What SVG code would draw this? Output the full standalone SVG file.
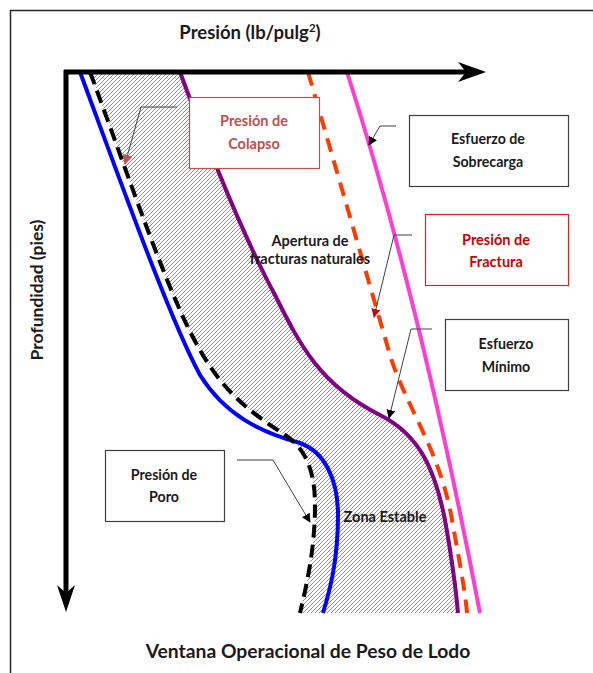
<svg xmlns="http://www.w3.org/2000/svg" width="593" height="673" viewBox="0 0 593 673">
<defs>
<pattern id="hatch" patternUnits="userSpaceOnUse" width="4" height="4">
<rect width="4" height="4" fill="#ffffff"/>
<path d="M-1,1 L1,-1 M0,4 L4,0 M3,5 L5,3" stroke="#858585" stroke-width="0.9"/>
</pattern>
<marker id="ahBlack" viewBox="0 0 10 10" refX="9" refY="5" markerWidth="9" markerHeight="9" markerUnits="userSpaceOnUse" orient="auto">
<path d="M0,0 L10,5 L0,10 Z" fill="#000"/>
</marker>
<marker id="ahRed" viewBox="0 0 10 10" refX="9" refY="5" markerWidth="9" markerHeight="9" markerUnits="userSpaceOnUse" orient="auto">
<path d="M0,0 L10,5 L0,10 Z" fill="#cc0000"/>
</marker>
<marker id="ahRose" viewBox="0 0 10 10" refX="9" refY="5" markerWidth="10" markerHeight="10" markerUnits="userSpaceOnUse" orient="auto">
<path d="M0,0 L10,5 L0,10 Z" fill="#c0504d"/>
</marker>
<style>
.t{font-family:Lato,"Liberation Sans",sans-serif;font-weight:bold;fill:#1a1a1a;}
.box{fill:#fff;stroke:#404040;stroke-width:1.2;}
.lead{fill:none;stroke:#404040;stroke-width:1;}
.curve{fill:none;stroke-width:4;stroke-linecap:butt;}
</style>
</defs>
<rect x="10.5" y="10.5" width="620" height="700" fill="#fff" stroke="#262626" stroke-width="1.5"/>

<g id="stable-zone">
<path d="M90,72 L180,72 C205,140 240,230 275,295 C300,345 320,385 380,415 C420,435 435,470 445,520 C453,565 456,590 458,613 L300,613 C308,580 315,545 315,505 C315,470 305,448 285,435 C255,415 225,395 200,350 C170,300 130,180 90,72 Z" fill="url(#hatch)"/>
</g>

<g id="curves">
<path id="overburden" class="curve" stroke="#ff3fd2" d="M347,72 Q420,300 480,613"/>
<path id="fracture" class="curve" stroke="#ff3c00" stroke-dasharray="14,9" d="M308,72 L390,355 C405,405 440,450 452,520 C460,565 465,590 467,613"/>
<path id="minstress" class="curve" stroke="#800080" d="M180,72 C205,140 240,230 275,295 C300,345 320,385 380,415 C420,435 435,470 445,520 C453,565 456,590 458,613"/>
<path id="pore" class="curve" stroke="#0000ff" d="M80,72 C120,180 170,320 200,375 C225,415 260,432 300,443 C325,452 338,480 338,515 C338,560 330,590 323,613"/>
<path id="collapse" class="curve" stroke="#000" stroke-dasharray="13,7" d="M90,72 C130,180 170,300 200,350 C225,395 255,415 285,435 C305,448 315,470 315,505 C315,545 308,580 300,613"/>
</g>

<g id="axes">
<path d="M64,72 L472,72" stroke="#000" stroke-width="5" fill="none"/>
<path d="M486,72 L458,62 L466,72 L458,82 Z" fill="#000"/>
<path d="M66,70 L66,598" stroke="#000" stroke-width="5" fill="none"/>
<path d="M66,612 L57,585 L66,593 L75,585 Z" fill="#000"/>
</g>

<g id="connectors">
<path class="lead" stroke="#c0504d" d="M177,107 L141,107 L125,164" marker-end="url(#ahRose)"/>
<path class="lead" d="M396,126 L380,126 L369,145" marker-end="url(#ahBlack)"/>
<path class="lead" stroke="#cc0000" d="M412,235 L394,235 L374,317" marker-end="url(#ahRed)"/>
<path class="lead" d="M432,329 L411,329 L389,418" marker-end="url(#ahBlack)"/>
<path class="lead" stroke="#555" d="M237,460 L273,460 L310,522" marker-end="url(#ahBlack)"/>
</g>

<g id="node-colapso">
<rect x="189.5" y="97.5" width="130" height="71" fill="#fff" stroke="#c0504d" stroke-width="1.2"/>
<text class="t" x="254" y="126" font-size="14.5" text-anchor="middle" style="fill:#c0504d">Presión de</text>
<text class="t" x="254" y="149" font-size="14.5" text-anchor="middle" style="fill:#c0504d">Colapso</text>
</g>

<g id="node-sobrecarga">
<rect class="box" x="409.5" y="115.5" width="159" height="71"/>
<text class="t" x="488" y="144" font-size="14.2" text-anchor="middle">Esfuerzo de</text>
<text class="t" x="488" y="167" font-size="14.2" text-anchor="middle">Sobrecarga</text>
</g>

<g id="node-fractura">
<rect x="425.5" y="214.5" width="143" height="71" fill="#fff" stroke="#e02020" stroke-width="1.2"/>
<text class="t" x="496" y="245" font-size="14.5" text-anchor="middle" style="fill:#cc0000">Presión de</text>
<text class="t" x="496" y="267" font-size="14.5" text-anchor="middle" style="fill:#cc0000">Fractura</text>
</g>

<g id="node-minimo">
<rect class="box" x="445.5" y="319.5" width="123" height="71"/>
<text class="t" x="506" y="349" font-size="14.2" text-anchor="middle">Esfuerzo</text>
<text class="t" x="506" y="372" font-size="14.2" text-anchor="middle">Mínimo</text>
</g>

<g id="node-poro">
<rect class="box" x="105.5" y="450.5" width="119" height="71"/>
<text class="t" x="164" y="480" font-size="14.2" text-anchor="middle">Presión de</text>
<text class="t" x="164" y="502" font-size="14.2" text-anchor="middle">Poro</text>
</g>

<g id="labels">
<text class="t" x="310" y="246" font-size="14.5" text-anchor="middle">Apertura de</text>
<text class="t" x="310" y="264" font-size="14.5" text-anchor="middle">fracturas naturales</text>
<text class="t" x="385" y="522" font-size="14.5" text-anchor="middle">Zona Estable</text>
<text class="t" x="250" y="39" font-size="18.5" text-anchor="middle">Presión (lb/pulg<tspan font-size="11.5" dy="-7">2</tspan><tspan dy="7">)</tspan></text>
<text class="t" x="308" y="658" font-size="19.3" text-anchor="middle">Ventana Operacional de Peso de Lodo</text>
<text class="t" x="0" y="0" font-size="17.5" text-anchor="middle" transform="translate(43,290) rotate(-90)">Profundidad (pies)</text>
</g>
</svg>
